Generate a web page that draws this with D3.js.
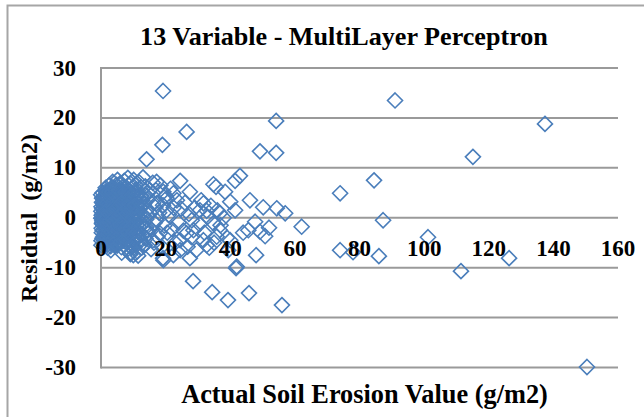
<!DOCTYPE html>
<html><head><meta charset="utf-8">
<script src="https://cdn.jsdelivr.net/npm/d3@7"></script>
<style>body{margin:0;background:#fff}svg{display:block}
text{font-family:"Liberation Serif",Tinos,"Times New Roman",serif;font-weight:bold;fill:#000;white-space:pre}</style>
</head><body>
<svg id="c" width="644" height="417"></svg>
<script>
const titleText = "13 Variable - MultiLayer Perceptron";
const xTitle = "Actual Soil Erosion Value (g/m2)";
const yTitle = "Residual  (g/m2)";
const xTicks = [0, 20, 40, 60, 80, 100, 120, 140, 160];
const yTicks = [-30, -20, -10, 0, 10, 20, 30];

// Outlying points [actual, residual]
const outliers = [
  [19.2,25.4],[26.5,17.2],[91.0,23.5],[137.4,18.8],[115.1,12.2],[54.2,19.4],
  [19.0,14.6],[14.1,11.7],[49.2,13.3],[54.2,13.0],[74.0,4.9],[84.5,7.5],
  [87.3,-0.5],[101.2,-3.9],[74.0,-6.5],[78.0,-6.9],[86.0,-7.7],[111.4,-10.7],
  [126.3,-8.1],[150.4,-29.9],[62.1,-1.8],[46.1,3.5],[43.0,8.4],[41.5,7.4],
  [34.8,6.7],[35.6,6.2],[38.4,5.2],[24.5,7.4],[27.5,5.2],[50.2,2.1],[54.4,1.9],
  [57.0,0.9],[45.6,-2.5],[47.7,-0.8],[49.2,-2.8],[50.8,-3.7],[40.0,3.2],[41.5,1.5],
  [36.8,0.9],[31.7,2.9],[32.7,1.4],[30.6,1.5],[28.1,-0.5],[28.6,-2.5],[31.7,-4.5],
  [34.8,-1.1],[36.8,-2.5],[35.8,-3.8],[32.7,-5.5],[26.5,-3.1],[24.5,-4.5],[24.5,-6.5],
  [27.5,-8.1],[22.4,-7.5],[19.3,-8.5],[10.0,-7.5],[9.8,-5.5],[20.3,3.9],[22.4,4.9],
  [17.2,7.2],[19.3,5.2],[17.2,2.9],[20.3,1.5],[17.2,-0.5],[14.1,-2.5],[16.1,-4.5],
  [13.2,-5.5],[18.2,-3.1],[42.0,-9.8],[40.0,-4.5],[39.4,-6.5],[28.5,-12.7],
  [34.4,-14.9],[39.3,-16.5],[41.8,-10.1],[45.8,-15.1],[56.0,-17.5],[19.2,-8.1],[9.0,-7.1]
];

// Dense cluster near the origin
const cluster = [
  [0.2,0.5],[0.3,-1.2],[0.4,1.8],[0.5,-2.5],[0.6,2.9],[0.7,-0.3],[0.8,3.6],[0.9,-3.4],[1.0,1.1],[1.1,-1.8],
  [1.2,4.2],[1.3,0.2],[1.4,-4.1],[1.5,2.4],[1.6,-0.9],[1.7,5.1],[1.8,-2.9],[1.9,1.5],[2.0,-4.8],[2.1,3.3],
  [2.2,-1.5],[2.3,0.7],[2.4,4.8],[2.5,-3.7],[2.6,2.0],[2.7,-0.4],[2.8,5.6],[2.9,-2.2],[3.0,1.2],[3.1,-5.2],
  [3.2,3.9],[3.3,-1.0],[3.4,6.1],[3.5,0.4],[3.6,-3.3],[3.7,2.7],[3.8,-4.4],[3.9,4.5],[4.0,-0.6],[4.1,1.9],
  [4.2,-2.6],[4.3,5.9],[4.4,-5.6],[4.5,3.1],[4.6,0.1],[4.7,-1.7],[4.8,6.6],[4.9,-3.9],[5.0,2.2],[5.2,-0.8],
  [5.3,4.7],[5.5,-4.9],[5.6,1.4],[5.7,-2.1],[5.9,6.9],[6.0,3.5],[6.2,-0.2],[6.3,-5.9],[6.5,2.6],[6.6,-3.0],
  [6.8,5.3],[6.9,0.9],[7.1,-1.4],[7.2,7.4],[7.4,-4.2],[7.5,3.8],[7.7,-0.5],[7.8,6.0],[8.0,-2.7],[8.1,1.6],
  [8.3,8.0],[8.4,-6.2],[8.6,4.1],[8.7,-1.1],[8.9,2.9],[9.0,-3.6],[9.2,6.8],[9.4,0.3],[9.5,-5.3],[9.7,4.9],
  [9.9,-2.0],[10.1,7.6],[10.2,1.8],[10.4,-4.0],[10.6,3.4],[10.8,-0.7],[11.0,5.7],[11.2,-6.8],[11.4,2.3],[11.6,-2.9],
  [11.8,7.1],[12.0,0.6],[12.3,-4.6],[12.5,4.4],[12.7,-1.3],[13.0,8.1],[13.2,2.7],[13.5,-5.5],[13.7,6.3],[14.0,-0.3],
  [14.3,3.7],[14.6,-3.2],[15.0,5.5],[15.3,0.9],[15.7,-2.4],[16.0,7.0],[16.4,-5.0],[16.8,2.1],[0.1,-0.1],[0.15,2.2],
  [0.25,-3.0],[0.35,3.9],[0.45,-4.2],[0.55,0.9],[1.05,-5.1],[1.45,6.0],[2.05,-6.0],[2.55,6.5],[3.05,-6.5],[0.05,4.6],
  [0.12,-5.5],[5.1,7.6],[6.4,-7.0],[3.6,7.2],[9.1,-7.3],[11.5,-7.6],
  [0.3,0.0],[0.6,-0.7],[0.9,0.6],[1.2,-1.5],[1.5,0.3],[1.8,1.0],[2.1,-0.6],[2.4,-2.0],[2.7,1.3],[3.0,-0.2],
  [3.3,2.1],[3.6,-1.9],[3.9,0.8],[4.2,1.4],[4.5,-1.0],[4.8,0.5],[5.1,-3.2],[5.4,2.9],[5.7,0.0],[6.0,-2.2],
  [6.3,1.5],[6.6,4.0],[6.9,-3.5],[7.2,0.4],[7.5,2.0],[7.8,-1.8],[8.1,3.1],[8.4,-0.1],[8.7,5.2],[9.0,1.0],
  [9.3,-2.4],[9.6,3.0],[9.9,-4.4],[10.2,0.0],[10.5,5.0],[10.8,-2.2],[11.1,1.2],[11.4,-4.8],[11.7,3.9],[12.0,-0.9],
  [12.4,6.1],[12.8,-3.3],[13.2,0.5],[13.6,4.6],[14.0,-1.9],[0.7,2.0],[1.0,3.0],[1.3,-2.8],[1.6,-3.8],[1.9,4.0],
  [2.2,2.5],[2.5,-4.4],[2.8,3.0],[3.1,4.4],[3.4,-3.0],[3.7,-4.9],[4.0,3.6],[4.3,-3.5],[4.6,5.0],[4.9,-5.1],
  [5.2,4.1],[5.5,-1.2],[5.8,5.4],[6.1,-4.6],[6.4,-1.0],[6.7,6.1],[7.0,-5.5],[7.3,2.8],[7.6,-3.1],[7.9,4.4],
  [8.2,-5.0],[8.5,0.8],[8.8,-3.0],[9.1,2.2],[9.4,-6.0],[9.7,6.0],[10.0,-1.0],[10.3,-5.9],[10.6,6.6],[10.9,2.5],
  [11.2,4.6],[11.5,0.0],[11.8,-3.8],[12.1,2.2],[12.6,-6.0],[13.0,-2.0],[13.4,3.0],[13.8,-4.2],[14.2,1.6],[14.6,5.0],
  [15.5,-6.3],[16.2,3.0],[16.6,-1.0],[17.0,5.5],[17.5,-3.8],[18.0,1.0],[18.4,6.5],[18.8,-5.8],[19.2,2.5],[19.6,-1.6],
  [20.0,4.4],[20.5,-3.0],[21.0,0.6],[21.5,5.8],[22.0,-2.3],[22.5,2.0],[23.0,-5.0],[23.5,3.5],[24.0,-1.0],[24.8,1.8],
  [25.5,-2.6],[26.0,3.0],[26.8,-5.8],[27.2,0.8],[28.0,-3.9],[29.0,2.0],[29.5,-6.5],[30.5,-1.3],[31.0,3.5],[32.0,-3.0],
  [33.0,0.2],[33.5,-6.0],[34.0,2.4],[35.0,-5.0],[36.0,1.5],[37.0,-1.5],[38.0,0.0],[39.0,-4.0],[44.0,-3.0],[48.0,-7.5],[52.0,-2.0]
];

// Core of the cluster where the markers merge into a solid area
const core = [
  [0.1,1.3],[0.2,-2.1],[0.3,3.1],[0.4,-0.6],[0.5,4.1],[0.6,-3.9],[0.7,1.0],[0.8,-1.6],[0.9,2.4],[1.0,-4.4],
  [1.1,0.4],[1.2,3.5],[1.3,-3.2],[1.4,1.7],[1.5,-0.2],[1.6,4.5],[1.7,-2.3],[1.8,2.8],[1.9,-4.0],[2.0,0.1],
  [2.1,1.9],[2.2,-3.4],[2.3,4.0],[2.4,-0.9],[2.5,2.6],[2.6,-2.7],[2.7,0.5],[2.8,-4.1],[2.9,3.6],[3.0,-1.4],
  [3.1,1.6],[3.2,-2.9],[3.3,4.2],[3.4,0.0],[3.5,-4.3],[3.6,2.3],[3.7,-0.8],[3.8,3.2],[3.9,-2.4],[4.0,0.9],
  [4.1,-4.0],[4.2,4.3],[4.3,-1.1],[4.4,2.0],[4.5,-3.0],[4.6,0.6],[4.7,3.8],[4.8,-2.0],[4.9,1.3],[5.0,-4.2],
  [5.1,2.9],[5.2,-0.3],[5.3,-2.6],[5.4,4.0],[5.5,0.8],[5.6,-3.6],[5.7,2.1],[5.8,-1.0],[5.9,3.3],[6.0,-0.5],
  [6.1,1.8],[6.2,-3.3],[6.3,4.4],[6.4,0.2],[6.5,-2.0],[6.6,2.5],[6.7,-4.0],[6.8,1.1],[6.9,3.9],[7.0,-1.2],
  [7.1,2.2],[7.2,-2.8],[7.3,0.6],[7.4,4.2],[7.5,-0.7],[7.6,1.5],[7.7,-3.8],[7.8,3.0],[7.9,-0.1],[8.0,2.5],
  [8.2,-1.5],[8.4,3.7],[8.6,-2.5],[8.8,1.2],[9.0,4.0],[9.2,-1.0],[9.4,2.0],[9.6,-3.4],[9.8,0.5],[10.0,3.2],
  [0.15,-4.6],[0.5,5.0],[1.0,-5.5],[1.5,5.3],[2.0,-5.4],[2.5,5.2],[3.0,-5.7],[3.5,5.1],[4.0,-5.3],[4.5,5.5],
  [5.0,-5.6],[5.5,5.4],[6.0,-5.0],[6.5,5.0],[7.0,-4.6],[7.5,5.1],[8.0,-4.5],[8.5,4.7],[9.0,-5.0],[9.5,4.4],
  [0.4,-1.0],[0.8,0.3],[1.2,-0.4],[1.6,1.3],[2.0,-1.2],[2.4,0.9],[2.8,-0.5],[3.2,1.0],[3.6,-0.3],[4.0,2.0],
  [4.4,-0.6],[4.8,1.8],[5.2,-1.8],[5.6,0.4],[6.0,-1.3],[6.4,3.0],[6.8,-0.9],[7.2,1.3],[7.6,-2.2],[8.0,0.7],
  [8.4,-3.0],[8.8,2.8],[9.2,-2.0],[9.6,1.7],[10.0,-2.8],[10.4,2.4],[10.8,-3.2],[11.2,1.0],[11.6,-1.8],[12.0,3.0]
];

const points = cluster.concat(core, outliers);

const svg = d3.select("#c");
const mLeft = 101, mRight = 618, mTop = 68, mBottom = 367.5;
const x = d3.scaleLinear().domain([0,160]).range([mLeft,mRight]);
const y = d3.scaleLinear().domain([-30,30]).range([mBottom,mTop]);

// outer border
svg.append("rect").attr("x",7.5).attr("y",5.5).attr("width",700).attr("height",500)
  .attr("fill","#fff").attr("stroke","#a6a6a6").attr("stroke-width",2);

// gridlines
svg.append("g").selectAll("line").data(yTicks).join("line")
  .attr("x1",mLeft).attr("x2",mRight).attr("y1",d=>y(d)).attr("y2",d=>y(d))
  .attr("stroke","#9a9a9a").attr("stroke-width",2);
// left axis line
svg.append("line").attr("x1",mLeft).attr("x2",mLeft).attr("y1",mTop-1).attr("y2",mBottom+1)
  .attr("stroke","#9a9a9a").attr("stroke-width",2);

// markers (diamond)
const r = 7.5;
svg.append("g").selectAll("path").data(points).join("path")
  .attr("d", d => { const cx=x(d[0]), cy=y(d[1]); return `M${cx},${cy-r}L${cx+r},${cy}L${cx},${cy+r}L${cx-r},${cy}Z`; })
  .attr("fill","none").attr("stroke","#4a7ebb").attr("stroke-width",1.6);

// x tick labels at the zero line
svg.append("g").selectAll("text").data(xTicks).join("text")
  .attr("x",d=>x(d)).attr("y",y(0)+38).attr("text-anchor","middle")
  .attr("font-size",23).text(d=>d);
// y tick labels
svg.append("g").selectAll("text").data(yTicks).join("text")
  .attr("x",76).attr("y",d=>y(d)+7.5).attr("text-anchor","end")
  .attr("font-size",23).text(d=>d);

function fitText(sel, target){
  const w = sel.node().getComputedTextLength();
  const fs = +sel.attr("font-size");
  sel.attr("font-size", fs*target/w);
}
const t = svg.append("text").attr("x",344).attr("y",45).attr("text-anchor","middle")
  .attr("font-size",24).text(titleText);
fitText(t,408);
const xt = svg.append("text").attr("x",364.5).attr("y",403).attr("text-anchor","middle")
  .attr("font-size",23).text(xTitle);
fitText(xt,367);
svg.append("text").attr("transform","translate(37,218) rotate(-90)").attr("text-anchor","middle")
  .attr("font-size",24).text(yTitle);
</script>
</body></html>
